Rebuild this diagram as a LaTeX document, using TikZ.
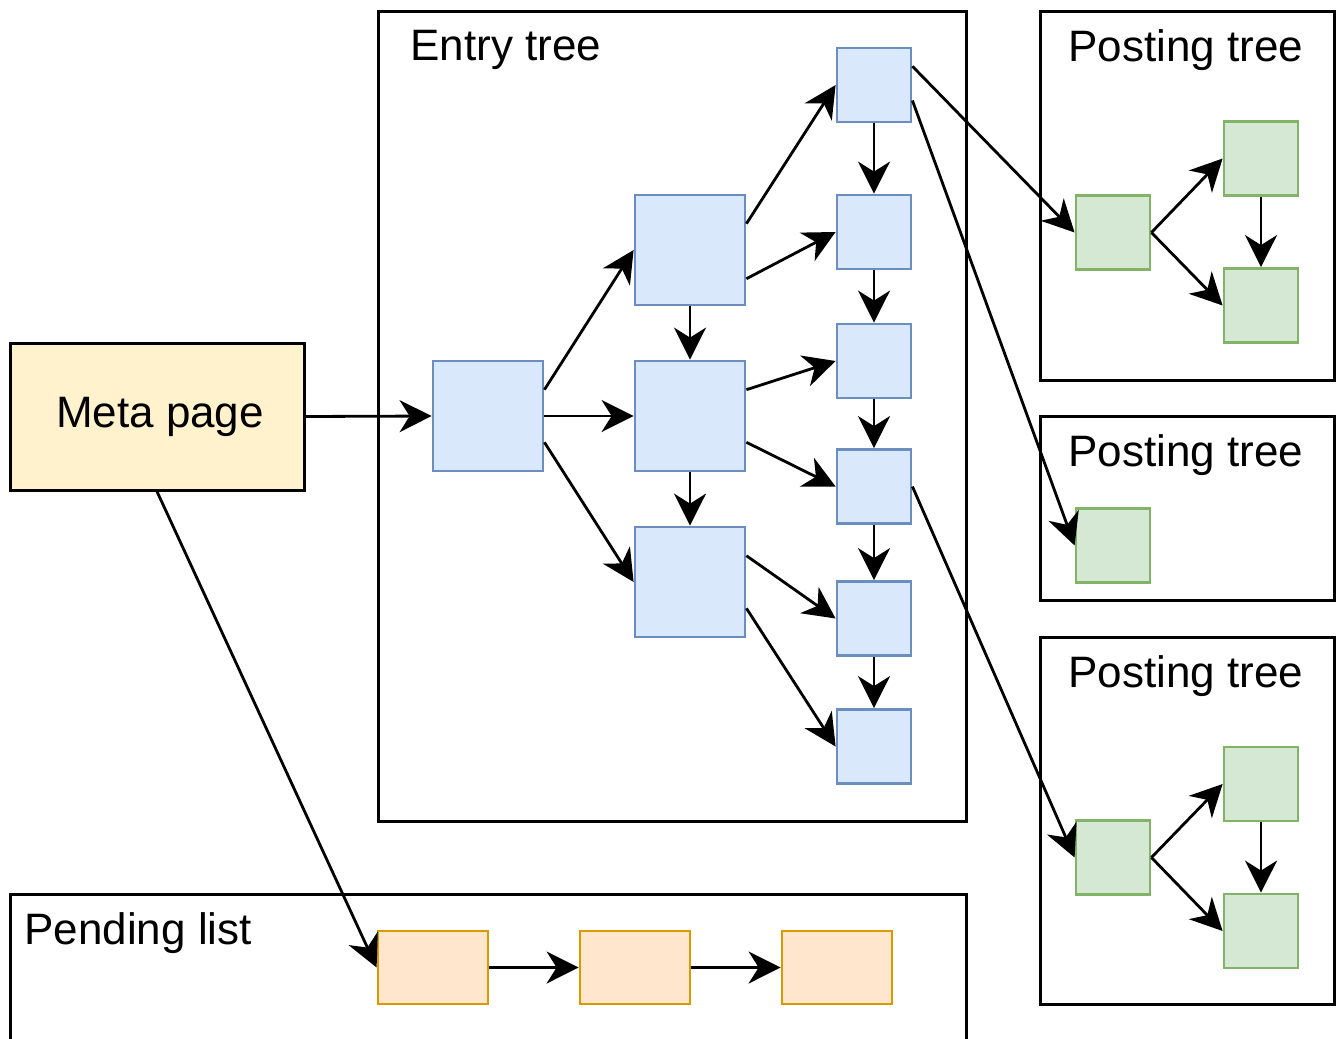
\documentclass[tikz,border=0pt]{standalone}
\usepackage{fontspec}
\setmainfont{Liberation Sans}
\usepackage{xcolor}
\usetikzlibrary{arrows.meta, positioning}

\definecolor{bluefill}{HTML}{DAE8FC}
\definecolor{bluedraw}{HTML}{6C8EBF}
\definecolor{greenfill}{HTML}{D5E8D4}
\definecolor{greendraw}{HTML}{82B366}
\definecolor{orangefill}{HTML}{FFE6CC}
\definecolor{orangedraw}{HTML}{D79B00}
\definecolor{metafill}{HTML}{FFF2CC}

\begin{document}
\begin{tikzpicture}[x=0.5pt, y=-0.5pt,
    every node/.style={font=\fontsize{22}{26}\selectfont, inner sep=0pt},
    frame/.style={draw, line width=1.5pt},
    bigpage/.style={draw=bluedraw, fill=bluefill, line width=1.4pt, minimum size=55pt},
    leafpage/.style={draw=bluedraw, fill=bluefill, line width=1.4pt, minimum size=37pt},
    postpage/.style={draw=greendraw, fill=greenfill, line width=1.4pt, minimum size=37pt},
    pendpage/.style={draw=orangedraw, fill=orangefill, line width=1.4pt, minimum width=55pt, minimum height=36.5pt},
    link/.style={line width=1.4pt, -{Stealth[length=16pt, width=16pt, inset=5pt]}}]
    \useasboundingbox (0,0) rectangle (1336,1038);

    % frames
    \draw[frame] (378,12) rectangle (966,821);
    \draw[frame] (1040,12) rectangle (1334,380);
    \draw[frame] (1040,416) rectangle (1334,600);
    \draw[frame] (1040,637) rectangle (1334,1004);
    \draw[frame] (10,1050) -- (10,894) -- (966,894) -- (966,1050);
    \node[anchor=west] (entrylbl) at (410,50) {Entry tree};
    \node (postlblA) at (1186,50) {Posting tree};
    \node (postlblB) at (1186,455) {Posting tree};
    \node (postlblC) at (1186,676) {Posting tree};
    \node[anchor=west] (pendlbl) at (24,933) {Pending list};

    % meta page
    \node[draw, fill=metafill, line width=1.5pt, minimum width=147pt, minimum height=73.5pt] (meta) at (157,416.5) {\hspace*{3pt}Meta page};

    % entry tree
    \node[bigpage] (root) at (488,416) {};
    \node[bigpage] (midA) at (690,250) {};
    \node[bigpage] (midB) at (690,416) {};
    \node[bigpage] (midC) at (690,582) {};
    \node[leafpage] (leafA) at (874,85) {};
    \node[leafpage] (leafB) at (874,232) {};
    \node[leafpage] (leafC) at (874,361) {};
    \node[leafpage] (leafD) at (874,486.5) {};
    \node[leafpage] (leafE) at (874,618.5) {};
    \node[leafpage] (leafF) at (874,746.5) {};

    % posting trees
    \node[postpage] (ptA) at (1113,232.5) {};
    \node[postpage] (ptAup) at (1261,158.5) {};
    \node[postpage] (ptAdn) at (1261,305.5) {};
    \node[postpage] (ptB) at (1113,545.5) {};
    \node[postpage] (ptC) at (1113,857.5) {};
    \node[postpage] (ptCup) at (1261,784) {};
    \node[postpage] (ptCdn) at (1261,931) {};

    % pending list
    \node[pendpage] (pendA) at (433,967.5) {};
    \node[pendpage] (pendB) at (635,967.5) {};
    \node[pendpage] (pendC) at (837,967.5) {};

    % connectors
    \draw[link] (meta.east) -- (root.west);
    \draw[link] (meta.south) -- (pendA.west);
    \draw[link] (root.25) -- (midA.west);
    \draw[link] (root.east) -- (midB.west);
    \draw[link] (root.-25) -- (midC.west);
    \draw[link] (midA.south) -- (midB.north);
    \draw[link] (midB.south) -- (midC.north);
    \draw[link] (midA.25) -- (leafA.west);
    \draw[link] (midA.-27) -- (leafB.west);
    \draw[link] (midB.25) -- (leafC.west);
    \draw[link] (midB.-25) -- (leafD.west);
    \draw[link] (midC.25) -- (leafE.west);
    \draw[link] (midC.-25) -- (leafF.west);
    \foreach \a/\b in {leafA/leafB, leafB/leafC, leafC/leafD, leafD/leafE, leafE/leafF}
        \draw[link] (\a.south) -- (\b.north);
    \draw[link] (leafA.26) -- (ptA.west);
    \draw[link] (leafA.-22) -- (ptB.west);
    \draw[link] (leafD.east) -- (ptC.west);
    \draw[link] (ptA.east) -- (ptAup.west);
    \draw[link] (ptA.east) -- (ptAdn.west);
    \draw[link] (ptAup.south) -- (ptAdn.north);
    \draw[link] (ptC.east) -- (ptCup.west);
    \draw[link] (ptC.east) -- (ptCdn.west);
    \draw[link] (ptCup.south) -- (ptCdn.north);
    \draw[link] (pendA.east) -- (pendB.west);
    \draw[link] (pendB.east) -- (pendC.west);
\end{tikzpicture}
\end{document}
